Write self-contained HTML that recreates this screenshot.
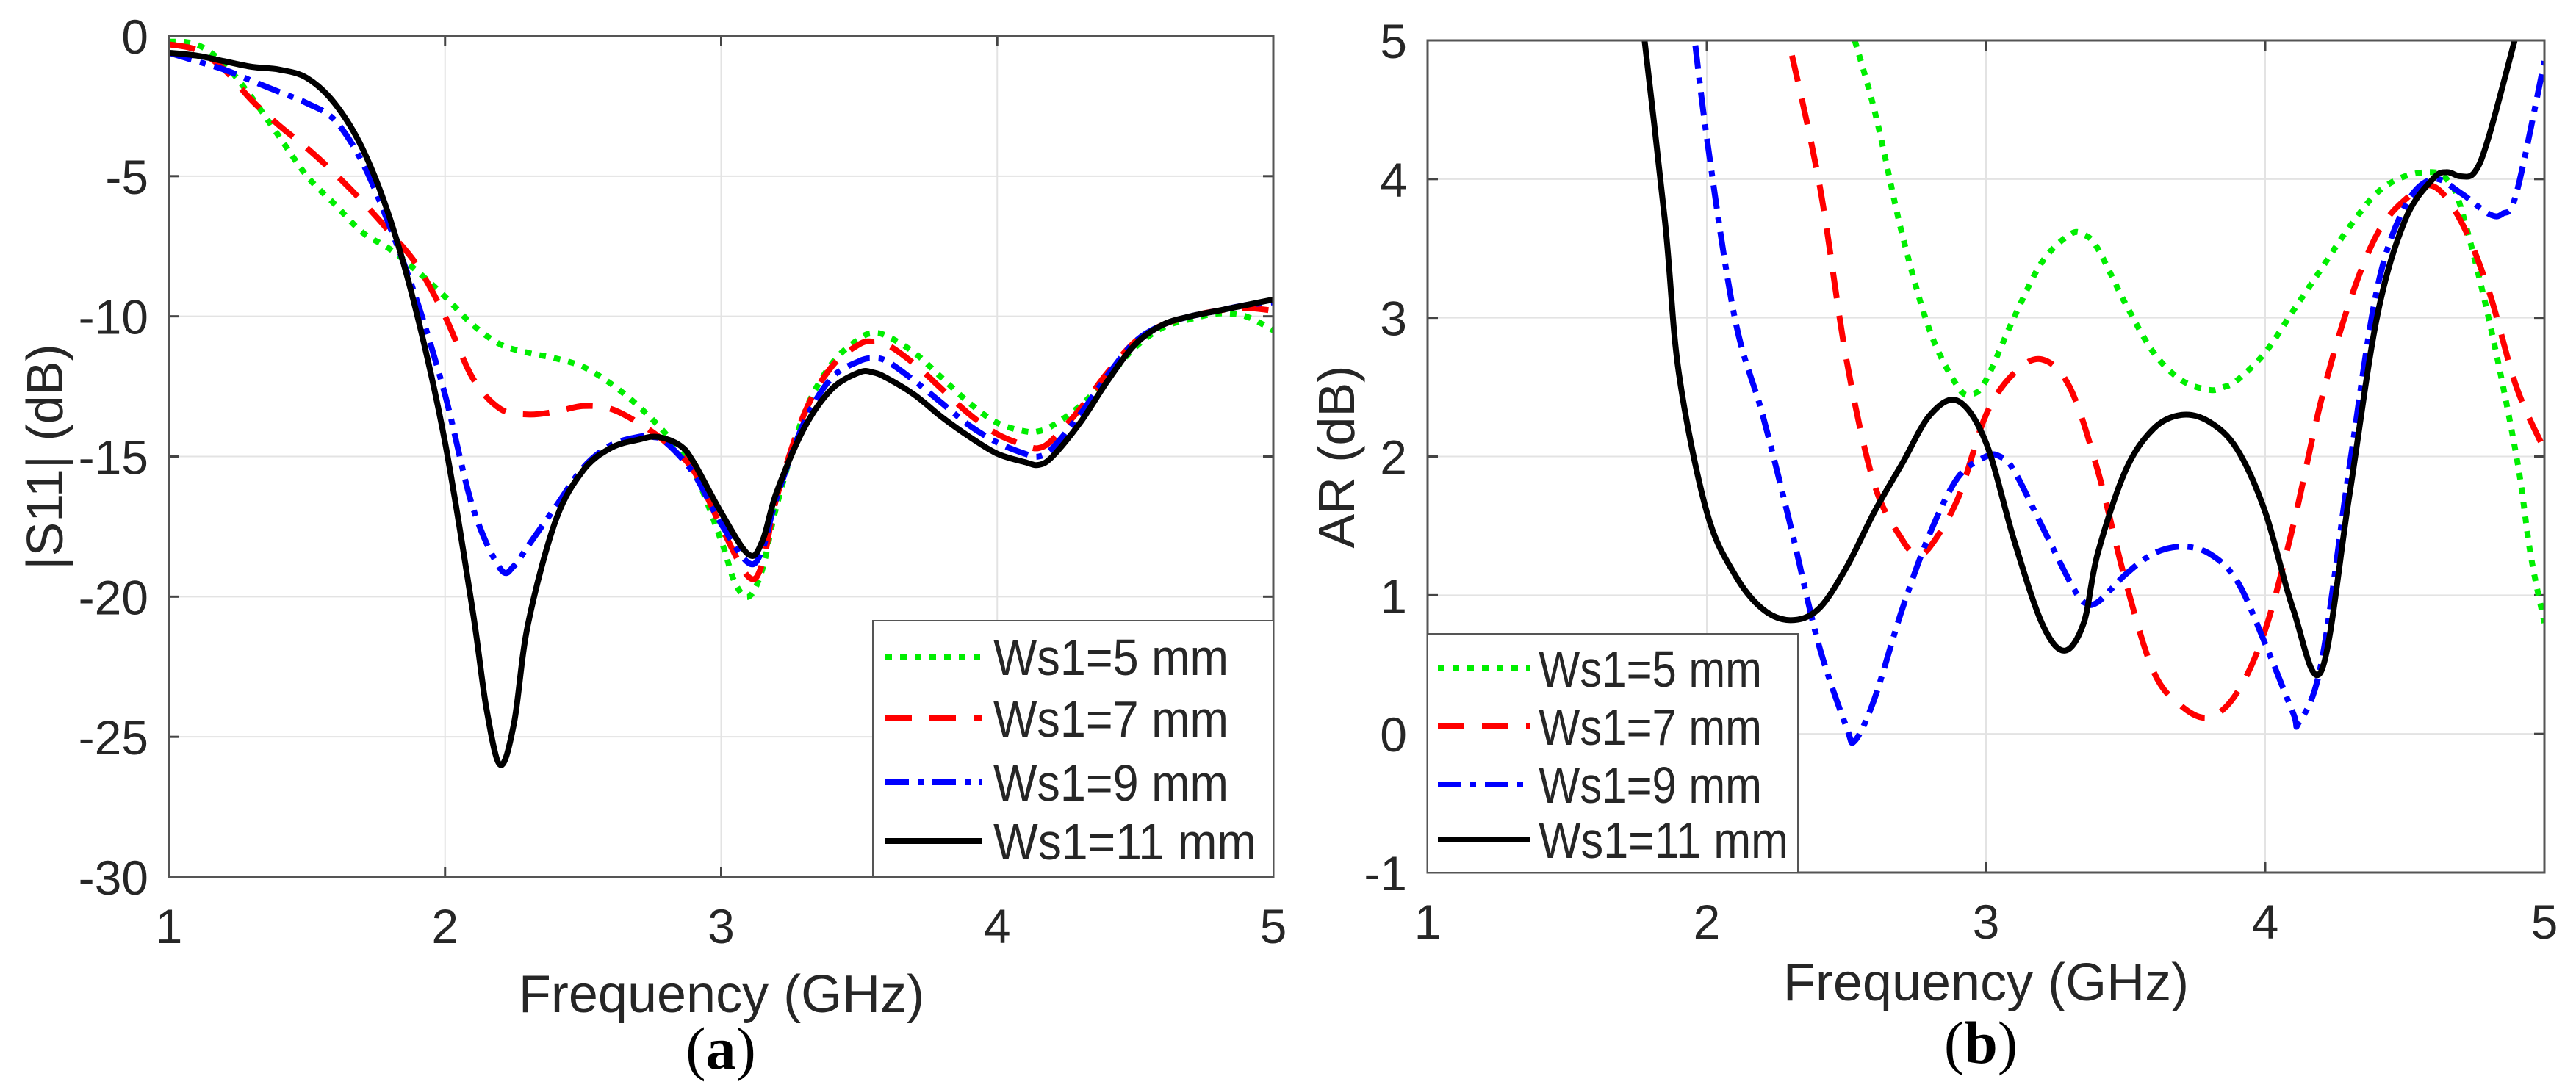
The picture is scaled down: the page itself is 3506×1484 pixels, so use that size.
<!DOCTYPE html>
<html><head><meta charset="utf-8"><style>
html,body{margin:0;padding:0;background:#fff}
svg{display:block}
text{font-family:"Liberation Sans",sans-serif;fill:#262626}
text.serif{font-family:"Liberation Serif",serif;fill:#000}
</style></head><body>
<svg id="fig" width="3506" height="1484" viewBox="0 0 3506 1484" xmlns="http://www.w3.org/2000/svg">
<g id="pa"></g>
<g id="pb"></g>
</svg>
<script>
// ---- data panel (a) |S11| ----
const s11Freq5=[1.0,1.1,1.2,1.3,1.4,1.5,1.6,1.7,1.8,1.9,2.0,2.1,2.2,2.3,2.4,2.5,2.6,2.7,2.8,2.9,3.0,3.05,3.1,3.15,3.2,3.3,3.4,3.5,3.55,3.6,3.7,3.8,3.9,4.0,4.1,4.15,4.2,4.3,4.4,4.5,4.6,4.7,4.8,4.9,5.0];
const s11Val5=[-0.2,-0.3,-1.0,-2.2,-3.6,-5.0,-6.0,-7.0,-7.6,-8.4,-9.3,-10.3,-11.0,-11.3,-11.5,-11.8,-12.4,-13.2,-14.2,-15.5,-18,-19.5,-20.0,-19,-16.8,-13.5,-11.7,-10.8,-10.6,-10.7,-11.3,-12.2,-13.1,-13.8,-14.1,-14.1,-13.9,-13.2,-12.2,-11.1,-10.4,-10.1,-9.9,-10.0,-10.5];
const s11Freq7=[1.0,1.1,1.2,1.3,1.4,1.5,1.6,1.7,1.8,1.9,2.0,2.1,2.2,2.3,2.4,2.5,2.6,2.7,2.8,2.9,3.0,3.1,3.15,3.2,3.3,3.4,3.5,3.55,3.6,3.7,3.8,3.9,4.0,4.1,4.15,4.2,4.3,4.4,4.5,4.6,4.7,4.8,4.9,5.0];
const s11Val7=[-0.3,-0.5,-1.2,-2.3,-3.2,-4.0,-4.9,-5.9,-7.0,-8.2,-10.0,-12.2,-13.3,-13.5,-13.4,-13.2,-13.3,-13.8,-14.5,-15.5,-17.5,-19.3,-18.8,-16.5,-13.5,-11.8,-11.0,-10.9,-11.0,-11.7,-12.6,-13.5,-14.2,-14.6,-14.7,-14.4,-13.3,-12.0,-10.9,-10.3,-10.0,-9.8,-9.7,-9.8];
const s11Freq9=[1.0,1.1,1.2,1.3,1.4,1.5,1.6,1.7,1.8,1.9,2.0,2.1,2.2,2.25,2.3,2.4,2.5,2.6,2.7,2.75,2.8,2.9,3.0,3.1,3.15,3.2,3.3,3.4,3.5,3.55,3.6,3.7,3.8,3.9,4.0,4.1,4.15,4.2,4.3,4.4,4.5,4.6,4.7,4.8,4.9,5.0];
const s11Val9=[-0.6,-0.9,-1.2,-1.6,-2.0,-2.4,-3.0,-4.5,-6.8,-9.5,-12.8,-16.8,-19.0,-18.9,-18.2,-16.8,-15.4,-14.6,-14.3,-14.3,-14.5,-15.6,-17.4,-18.8,-18.3,-16.5,-13.8,-12.2,-11.6,-11.5,-11.6,-12.3,-13.1,-13.9,-14.5,-14.9,-15.0,-14.7,-13.5,-12.1,-10.9,-10.3,-10.0,-9.8,-9.6,-9.5];
const s11Freq11=[1.0,1.1,1.2,1.3,1.4,1.5,1.6,1.7,1.8,1.9,2.0,2.1,2.15,2.2,2.25,2.3,2.4,2.5,2.6,2.7,2.77,2.85,2.9,3.0,3.1,3.15,3.2,3.3,3.4,3.5,3.55,3.6,3.7,3.8,3.9,4.0,4.1,4.15,4.2,4.3,4.4,4.5,4.6,4.7,4.8,4.9,5.0];
const s11Val11=[-0.6,-0.7,-0.9,-1.1,-1.2,-1.5,-2.4,-4.0,-6.5,-10.0,-14.5,-20.5,-24,-26.0,-24.5,-21,-17.3,-15.5,-14.7,-14.4,-14.3,-14.6,-15.2,-17.0,-18.5,-18.0,-16.3,-14.0,-12.6,-12.0,-12.0,-12.2,-12.8,-13.6,-14.3,-14.9,-15.2,-15.3,-15.0,-13.8,-12.3,-11.0,-10.3,-10.0,-9.8,-9.6,-9.4];
// ---- data panel (b) AR ----
const arFreq5=[2.5,2.6,2.7,2.8,2.9,2.95,3.0,3.1,3.2,3.3,3.35,3.4,3.5,3.6,3.7,3.8,3.85,3.9,4.0,4.1,4.2,4.3,4.4,4.5,4.6,4.65,4.7,4.8,4.9,4.95,5.0];
const arVal5=[5.2,4.5,3.6,2.9,2.5,2.45,2.55,3.0,3.4,3.6,3.6,3.5,3.1,2.75,2.55,2.48,2.5,2.55,2.75,3.05,3.35,3.65,3.9,4.02,4.05,4.0,3.8,3.0,2.0,1.3,0.8];
const arFreq7=[2.27,2.4,2.5,2.6,2.7,2.75,2.8,2.9,3.0,3.1,3.2,3.3,3.4,3.5,3.6,3.7,3.8,3.9,4.0,4.1,4.2,4.3,4.4,4.5,4.6,4.7,4.8,4.9,5.0];
const arVal7=[5.2,4.0,2.7,1.8,1.4,1.3,1.35,1.7,2.3,2.6,2.7,2.5,1.9,1.1,0.45,0.2,0.12,0.3,0.75,1.5,2.4,3.1,3.6,3.85,3.95,3.7,3.2,2.5,2.05];
const arFreq9=[1.94,2.0,2.1,2.2,2.3,2.4,2.5,2.53,2.6,2.7,2.8,2.9,3.0,3.05,3.1,3.2,3.3,3.35,3.4,3.5,3.6,3.7,3.8,3.9,4.0,4.1,4.12,4.2,4.3,4.4,4.5,4.6,4.7,4.8,4.85,4.9,5.0];
const arVal9=[5.3,4.3,3.0,2.3,1.5,0.65,0.05,-0.05,0.25,0.9,1.45,1.85,2.0,2.0,1.9,1.5,1.1,0.95,0.95,1.15,1.3,1.35,1.3,1.1,0.65,0.15,0.08,0.5,1.9,3.2,3.8,4.0,3.9,3.75,3.75,3.9,4.85];
const arFreq11=[1.76,1.85,1.9,2.0,2.1,2.2,2.3,2.4,2.5,2.6,2.7,2.8,2.9,3.0,3.1,3.2,3.28,3.35,3.4,3.5,3.6,3.7,3.8,3.9,4.0,4.1,4.2,4.3,4.4,4.5,4.6,4.65,4.7,4.75,4.8,4.9];
const arVal11=[5.3,3.7,2.6,1.6,1.15,0.9,0.82,0.9,1.2,1.6,1.95,2.3,2.4,2.1,1.4,0.8,0.6,0.8,1.3,1.9,2.2,2.3,2.25,2.05,1.6,0.9,0.45,1.7,3.0,3.7,4.0,4.05,4.02,4.05,4.3,5.05];
const legendLabels=["Ws1=5 mm","Ws1=7 mm","Ws1=9 mm","Ws1=11 mm"];
const xTicks=[1,2,3,4,5];
const yTicksA=[0,-5,-10,-15,-20,-25,-30];
const yTicksB=[5,4,3,2,1,0,-1];

const NS="http://www.w3.org/2000/svg";
const styles=[
 {c:"#00ee00",d:"9 11"},
 {c:"#ff0000",d:"36 24"},
 {c:"#0000ff",d:"32 12 8 12"},
 {c:"#000000",d:""}
];
function mk(parent,tag,attrs){const e=document.createElementNS(NS,tag);for(const k in attrs)e.setAttribute(k,attrs[k]);parent.appendChild(e);return e;}
function smooth(pts){let d="M"+pts[0][0]+","+pts[0][1];for(let i=0;i<pts.length-1;i++){const p0=pts[Math.max(0,i-1)],p1=pts[i],p2=pts[i+1],p3=pts[Math.min(pts.length-1,i+2)];const c1x=p1[0]+(p2[0]-p0[0])/6,c1y=p1[1]+(p2[1]-p0[1])/6,c2x=p2[0]-(p3[0]-p1[0])/6,c2y=p2[1]-(p3[1]-p1[1])/6;d+=` C${c1x},${c1y} ${c2x},${c2y} ${p2[0]},${p2[1]}`;}return d;}

function panel(g,id,box,xMin,xMax,yMin,yMax,yTicks,series,yLabel,leg,sub,labPos){
 const X=v=>box.x0+(v-xMin)/(xMax-xMin)*(box.x1-box.x0);
 const Y=v=>box.y1-(v-yMin)/(yMax-yMin)*(box.y1-box.y0);
 const grid=mk(g,"g",{});
 
 
 xTicks.forEach(t=>{mk(grid,"line",{x1:X(t),x2:X(t),y1:box.y0,y2:box.y1,stroke:"#e3e3e3","stroke-width":2});
  const tl=mk(g,"text",{x:X(t),y:box.y1+90,"font-size":66,"text-anchor":"middle"});tl.textContent=t;
  
  
  mk(g,"line",{x1:X(t),x2:X(t),y1:box.y1,y2:box.y1-14,stroke:"#444","stroke-width":3});
  mk(g,"line",{x1:X(t),x2:X(t),y1:box.y0,y2:box.y0+14,stroke:"#444","stroke-width":3});});
 yTicks.forEach(t=>{mk(grid,"line",{x1:box.x0,x2:box.x1,y1:Y(t),y2:Y(t),stroke:"#e3e3e3","stroke-width":2});
  const tl=mk(g,"text",{x:box.x0-28,y:Y(t)+24,"font-size":66,"text-anchor":"end"});tl.textContent=t;
  
  
  mk(g,"line",{x1:box.x0,x2:box.x0+14,y1:Y(t),y2:Y(t),stroke:"#444","stroke-width":3});
  mk(g,"line",{x1:box.x1,x2:box.x1-14,y1:Y(t),y2:Y(t),stroke:"#444","stroke-width":3});});
 const cp=mk(g,"clipPath",{id:"clip"+id});
 mk(cp,"rect",{x:box.x0,y:box.y0,width:box.x1-box.x0,height:box.y1-box.y0});
 const lines=mk(g,"g",{"clip-path":`url(#clip${id})`});
 series.forEach((s,i)=>{const pts=s[0].map((f,j)=>[X(f),Y(s[1][j])]);
  const p=mk(lines,"path",{d:smooth(pts),fill:"none",stroke:styles[i].c,"stroke-width":8,"stroke-dasharray":styles[i].d,"stroke-linejoin":"round"});
  
  });
 mk(g,"rect",{x:box.x0,y:box.y0,width:box.x1-box.x0,height:box.y1-box.y0,fill:"none",stroke:"#555","stroke-width":3});
 const lg=mk(g,"g",{});
 
 
 mk(lg,"rect",{x:leg.x0,y:leg.y0,width:leg.x1-leg.x0,height:leg.y1-leg.y0,fill:"#fff",stroke:"#555","stroke-width":2});
 legendLabels.forEach((l,i)=>{const yy=leg.rows[i];
  mk(lg,"line",{x1:leg.lx0,x2:leg.lx1,y1:yy,y2:yy,stroke:styles[i].c,"stroke-width":8,"stroke-dasharray":styles[i].d});
  const t=mk(lg,"text",{x:leg.tx,y:yy+25,"font-size":70,"textLength":i==3?leg.w11:leg.w5,"lengthAdjust":"spacingAndGlyphs"});t.textContent=l;
  
  });
 const yl=mk(g,"text",{x:0,y:0,"font-size":70,"text-anchor":"middle",transform:`translate(${labPos.yx},${labPos.yy}) rotate(-90)`});yl.textContent=yLabel;
 
 
 const xl=mk(g,"text",{x:labPos.xx,y:labPos.xy,"font-size":72,"text-anchor":"middle"});xl.textContent="Frequency (GHz)";
 
 
 const st=mk(g,"text",{x:labPos.sx,y:labPos.sy,"font-size":82,"text-anchor":"middle","class":"serif"});
 st.innerHTML=`(<tspan font-weight="bold">${sub}</tspan>)`;
 
 
}
panel(document.getElementById("pa"),"a",{x0:230,x1:1733,y0:49,y1:1194},1,5,-30,0,yTicksA,
 [[s11Freq5,s11Val5],[s11Freq7,s11Val7],[s11Freq9,s11Val9],[s11Freq11,s11Val11]],"|S11| (dB)",
 {x0:1188,x1:1733,y0:845,y1:1194,lx0:1205,lx1:1337,tx:1352,rows:[894,978,1065,1145],w5:320,w11:358},"a",
 {yx:85,yy:622,xx:982,xy:1378,sx:981,sy:1455});
panel(document.getElementById("pb"),"b",{x0:1943,x1:3463,y0:55,y1:1188},1,5,-1,5,yTicksB,
 [[arFreq5,arVal5],[arFreq7,arVal7],[arFreq9,arVal9],[arFreq11,arVal11]],"AR (dB)",
 {x0:1943,x1:2447,y0:863,y1:1188,lx0:1957,lx1:2083,tx:2094,rows:[910,989,1068,1143],w5:304,w11:340},"b",
 {yx:1843,yy:622,xx:2703,xy:1362,sx:2696,sy:1447});
</script>
</body></html>
